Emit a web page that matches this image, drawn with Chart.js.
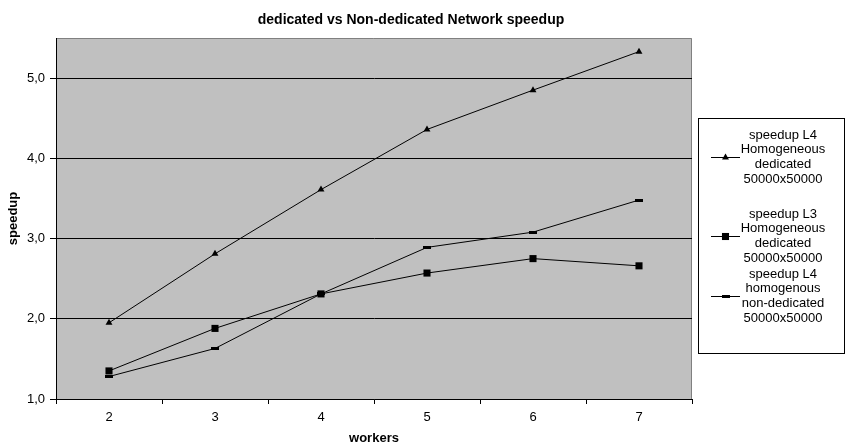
<!DOCTYPE html>
<html>
<head>
    <title>dedicated vs Non-dedicated Network speedup</title>
    <style>
        body {
            margin: 0;
            background: #ffffff;
        }

        .chart-container {
            position: relative;
            width: 846px;
            height: 446px;
        }
    </style>
    <script src="https://cdn.jsdelivr.net/npm/chart.js"></script>
</head>
<body>
    <div class="chart-container">
        <canvas id="speedupChart" width="846" height="446"></canvas>
    </div>

    <script>
        // Values
        const workers = ['2', '3', '4', '5', '6', '7'];
        const l4Dedicated = [1.95, 2.81, 3.61, 4.36, 4.85, 5.33];
        const l3Dedicated = [1.35, 1.88, 2.31, 2.57, 2.75, 2.66];
        const l4NonDedicated = [1.28, 1.63, 2.31, 2.89, 3.08, 3.48];
        const seriesLabels = [
            ['speedup L4', 'Homogeneous', 'dedicated', '50000x50000'],
            ['speedup L3', 'Homogeneous', 'dedicated', '50000x50000'],
            ['speedup L4', 'homogenous', 'non-dedicated', '50000x50000']
        ];
        const titleText = 'dedicated vs Non-dedicated Network speedup';

        const FONT = '"Liberation Sans", Arial, sans-serif';

        // small horizontal dash used as the third series' marker
        function makeDash() {
            const c = document.createElement('canvas');
            c.width = 8;
            c.height = 3;
            const g = c.getContext('2d');
            g.fillStyle = '#000';
            g.fillRect(0, 0, 8, 3);
            return c;
        }
        const dash = makeDash();

        // gray plot area, gray top/right frame, title and the boxed legend
        const excelLook = {
            id: 'excelLook',
            beforeDraw(chart) {
                const { ctx, chartArea: a } = chart;
                ctx.save();
                ctx.fillStyle = '#c0c0c0';
                ctx.fillRect(a.left, a.top, a.right - a.left, a.bottom - a.top);
                ctx.strokeStyle = '#808080';
                ctx.lineWidth = 1;
                ctx.beginPath();
                ctx.moveTo(a.left, a.top + 0.5);
                ctx.lineTo(a.right - 0.5, a.top + 0.5);
                ctx.lineTo(a.right - 0.5, a.bottom);
                ctx.stroke();
                ctx.restore();
            },
            afterDraw(chart) {
                const ctx = chart.ctx;
                ctx.save();
                ctx.fillStyle = '#000';
                ctx.textAlign = 'center';
                ctx.textBaseline = 'middle';
                ctx.font = 'bold 14px ' + FONT;
                ctx.fillText(titleText, 411, 20);

                // legend box
                ctx.strokeStyle = '#000';
                ctx.lineWidth = 1;
                ctx.strokeRect(698.5, 118.5, 146, 235);
                ctx.font = '13px ' + FONT;
                const lineY = [157, 236, 296];
                chart.data.datasets.forEach((ds, i) => {
                    const y = lineY[i];
                    ctx.beginPath();
                    ctx.moveTo(711, y + 0.5);
                    ctx.lineTo(740, y + 0.5);
                    ctx.stroke();
                    Chart.helpers.drawPoint(ctx, {
                        pointStyle: ds.pointStyle,
                        radius: ds.pointRadius,
                        borderWidth: 0
                    }, 725.5, y + 0.5);
                    const lines = seriesLabels[i];
                    const lh = 14.7;
                    const y0 = y - lh * (lines.length - 1) / 2;
                    lines.forEach((t, k) => ctx.fillText(t, 783, y0 + k * lh));
                });
                ctx.restore();
            }
        };

        function series(label, data, style, radius) {
            return {
                label: label,
                data: data,
                borderColor: '#000',
                borderWidth: 1,
                backgroundColor: '#000',
                pointStyle: style,
                pointRadius: radius,
                pointHoverRadius: radius,
                pointBackgroundColor: '#000',
                pointBorderColor: '#000',
                pointBorderWidth: 0,
                tension: 0,
                fill: false
            };
        }

        const ctx = document.getElementById('speedupChart').getContext('2d');
        new Chart(ctx, {
            type: 'line',
            data: {
                labels: workers,
                datasets: [
                    series(seriesLabels[0].join(' '), l4Dedicated, 'triangle', 4),
                    series(seriesLabels[1].join(' '), l3Dedicated, 'rect', 5),
                    series(seriesLabels[2].join(' '), l4NonDedicated, dash, 4)
                ]
            },
            options: {
                responsive: false,
                animation: false,
                devicePixelRatio: 1,
                layout: {
                    padding: { left: 0, top: 38, right: 154, bottom: 0 }
                },
                plugins: {
                    legend: { display: false },
                    title: { display: false },
                    tooltip: { enabled: false }
                },
                scales: {
                    x: {
                        offset: true,
                        grid: {
                            offset: true,
                            drawOnChartArea: false,
                            color: '#000',
                            tickLength: 5,
                            tickColor: '#000'
                        },
                        border: { color: '#000', width: 1 },
                        ticks: {
                            color: '#000',
                            padding: 6,
                            maxRotation: 0,
                            font: { family: FONT, size: 13 }
                        },
                        title: {
                            display: true,
                            text: 'workers',
                            color: '#000',
                            padding: { top: 4, bottom: 0 },
                            font: { family: FONT, size: 13, weight: 'bold' }
                        },
                        afterFit(scale) { scale.height = 47; }
                    },
                    y: {
                        min: 1,
                        max: 5.5,
                        bounds: 'data',
                        grid: {
                            color: '#000',
                            tickLength: 6,
                            tickColor: '#000'
                        },
                        border: { color: '#000', width: 1 },
                        ticks: {
                            stepSize: 1,
                            includeBounds: false,
                            color: '#000',
                            padding: 5,
                            font: { family: FONT, size: 13 },
                            callback: v => Number.isInteger(v) ? v.toFixed(1).replace('.', ',') : ''
                        },
                        title: {
                            display: true,
                            text: 'speedup',
                            color: '#000',
                            padding: { top: 6, bottom: 0 },
                            font: { family: FONT, size: 13, weight: 'bold' }
                        },
                        afterFit(scale) { scale.width = 56; }
                    }
                }
            },
            plugins: [excelLook]
        });
    </script>
</body>
</html>
